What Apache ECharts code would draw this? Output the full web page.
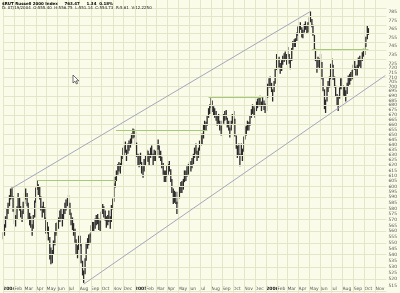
<!DOCTYPE html>
<html><head><meta charset="utf-8">
<script src="https://cdn.jsdelivr.net/npm/echarts@6/dist/echarts.min.js"></script>
<style>html,body{margin:0;padding:0;background:#fbfbe9}#c{width:400px;height:293px}</style>
</head><body><div id="c"></div>
<script>
// ---------- DATA ----------
const headerTitle = '$RUT Russell 2000 Index';
const headerLast = '763.47';
const headerChange = '1.34  0.18%';
const headerInfo = 'D: 07/19/2004  O:555.40  H:556.75  L:551.14  C:554.73  R:5.61  V:12.2250';

const monthTicks = ['2004-01-01','2004-02-01','2004-03-01','2004-04-01','2004-05-01','2004-06-01','2004-07-01','2004-08-01','2004-09-01','2004-10-01','2004-11-01','2004-12-01',
'2005-01-01','2005-02-01','2005-03-01','2005-04-01','2005-05-01','2005-06-01','2005-07-01','2005-08-01','2005-09-01','2005-10-01','2005-11-01','2005-12-01',
'2006-01-01','2006-02-01','2006-03-01','2006-04-01','2006-05-01','2006-06-01','2006-07-01','2006-08-01','2006-09-01','2006-10-01','2006-11-01'];
const monthLabels = ['2004','Feb','Mar','Apr','May','Jun','Jul','Aug','Sep','Oct','Nov','Dec',
'2005','Feb','Mar','Apr','May','Jun','Jul','Aug','Sep','Oct','Nov','Dec',
'2006','Feb','Mar','Apr','May','Jun','Jul','Aug','Sep','Oct','Nov'];

const priceLabels = [785,775,765,755,745,735,725,720,715,710,705,700,695,690,685,680,675,670,665,660,655,650,645,640,635,630,625,620,615,610,605,600,595,590,585,580,575,570,565,560,555,550,545,540,535,530,525,520,515];
const priceGrid = [790,780,770,760,750,740,730,720,710,700,690,680,670,660,650,640,630,620,610,600,590,580,570,560,550,540,530,520,510];

// [date, low, high]
const bars2004 = [
['2004-01-02',553,559],
['2004-01-05',556,566],['2004-01-08',563,573],['2004-01-12',570,580],['2004-01-15',575,585],
['2004-01-19',582,592],['2004-01-22',588,598],['2004-01-26',589,599],['2004-01-29',577,591],
['2004-02-02',566,579],['2004-02-05',564,574],['2004-02-09',570,582],['2004-02-12',580,594],
['2004-02-16',578,590],['2004-02-19',572,582],['2004-02-23',568,578],['2004-02-26',575,586],
['2004-03-01',584,594],['2004-03-04',588,598],['2004-03-08',582,594],['2004-03-11',570,585],
['2004-03-15',565,576],['2004-03-18',563,573],['2004-03-22',556,566],['2004-03-25',562,574],
['2004-03-29',572,587],['2004-04-01',585,599],['2004-04-05',597,606],['2004-04-08',592,602],
['2004-04-12',588,600],['2004-04-15',578,591],['2004-04-19',572,582],['2004-04-22',576,586],
['2004-04-26',570,581],['2004-04-29',558,572],['2004-05-03',558,568],['2004-05-06',552,564],
['2004-05-10',536,555],['2004-05-13',532,546],['2004-05-17',533,544],['2004-05-20',540,552],
['2004-05-24',548,560],['2004-05-27',556,567],['2004-05-31',558,568],['2004-06-03',562,572],
['2004-06-07',568,578],['2004-06-10',570,580],['2004-06-14',564,575],['2004-06-17',570,580],
['2004-06-21',575,585],['2004-06-24',578,588],['2004-06-28',582,590],['2004-07-01',583,592],
['2004-07-05',574,585],['2004-07-08',565,576],['2004-07-12',561,572],['2004-07-15',556,567],
['2004-07-19',550,562],['2004-07-22',540,553],['2004-07-26',537,548],['2004-07-29',544,556],
['2004-08-02',547,556],['2004-08-05',533,549],['2004-08-09',523,535],['2004-08-12',517,527],
['2004-08-16',524,537],['2004-08-19',535,550],['2004-08-23',545,554],['2004-08-26',548,557],
['2004-08-30',550,558],['2004-09-02',555,565],['2004-09-06',560,568],['2004-09-09',560,568],
['2004-09-13',562,571],['2004-09-16',565,574],['2004-09-20',566,575],['2004-09-23',561,571],
['2004-09-27',560,569],['2004-09-30',567,577],['2004-10-04',575,584],['2004-10-07',572,582],
['2004-10-11',569,578],['2004-10-14',563,573],['2004-10-18',565,574],['2004-10-21',568,578],
['2004-10-25',562,573],['2004-10-28',568,583],['2004-11-01',579,589],['2004-11-04',586,603],
['2004-11-08',599,609],['2004-11-11',605,615],['2004-11-15',611,621],['2004-11-18',614,623],
['2004-11-22',612,622],['2004-11-25',619,629],['2004-11-29',626,637],['2004-12-02',629,639],
['2004-12-06',632,643],['2004-12-09',624,635],['2004-12-13',631,641],['2004-12-16',634,644],
['2004-12-20',637,646],['2004-12-23',641,651],['2004-12-27',646,656],['2004-12-30',647,655]
];
const bars2005 = [
['2005-01-03',640,653],['2005-01-06',628,642],['2005-01-10',620,631],['2005-01-13',618,629],
['2005-01-17',621,632],['2005-01-20',612,623],['2005-01-24',608,619],['2005-01-27',614,626],
['2005-01-31',620,629],['2005-02-03',624,635],['2005-02-07',623,634],['2005-02-10',620,631],
['2005-02-14',627,637],['2005-02-17',629,639],['2005-02-21',620,631],['2005-02-24',624,635],
['2005-02-28',624,634],['2005-03-03',629,641],['2005-03-07',635,645],['2005-03-10',627,639],
['2005-03-14',624,634],['2005-03-17',617,628],['2005-03-21',611,622],['2005-03-24',604,615],
['2005-03-28',604,615],['2005-03-31',609,620],['2005-04-04',611,621],['2005-04-07',614,624],
['2005-04-11',604,616],['2005-04-14',594,607],['2005-04-18',584,598],['2005-04-21',585,596],
['2005-04-25',584,595],['2005-04-28',575,586],['2005-05-02',584,595],['2005-05-05',589,600],
['2005-05-09',594,604],['2005-05-12',594,605],['2005-05-16',597,607],['2005-05-19',604,615],
['2005-05-23',605,615],['2005-05-26',609,619],['2005-05-30',611,621],['2005-06-02',614,623],
['2005-06-06',614,624],['2005-06-09',617,627],['2005-06-13',621,631],['2005-06-16',627,637],
['2005-06-20',631,641],['2005-06-23',624,634],['2005-06-27',627,637],['2005-06-30',634,644],
['2005-07-04',639,649],['2005-07-07',640,651],['2005-07-11',646,660],['2005-07-14',654,664],
['2005-07-18',654,663],['2005-07-21',659,669],['2005-07-25',667,677],['2005-07-28',671,681],
['2005-08-01',677,688],['2005-08-04',673,685],['2005-08-08',669,679],['2005-08-11',667,677],
['2005-08-15',664,674],['2005-08-18',659,669],['2005-08-22',661,671],['2005-08-25',654,664],
['2005-08-29',649,659],['2005-09-01',654,664],['2005-09-05',661,671],['2005-09-08',664,674],
['2005-09-12',665,675],['2005-09-15',657,667],['2005-09-19',654,664],['2005-09-22',647,657],
['2005-09-26',654,664],['2005-09-29',661,671],['2005-10-03',664,674],['2005-10-06',648,666],
['2005-10-10',636,649],['2005-10-13',627,639],['2005-10-17',629,641],['2005-10-20',619,631],
['2005-10-24',629,641],['2005-10-27',624,636],['2005-10-31',633,648],['2005-11-03',645,658],
['2005-11-07',649,659],['2005-11-10',654,664],['2005-11-14',654,663],['2005-11-17',659,669],
['2005-11-21',667,676],['2005-11-24',671,681],['2005-11-28',669,679],['2005-12-01',667,677],
['2005-12-05',674,684],['2005-12-08',677,687],['2005-12-12',679,689],['2005-12-15',679,690],
['2005-12-19',674,684],['2005-12-22',679,689],['2005-12-26',675,685],['2005-12-29',672,682]
];
const bars2006 = [
['2006-01-02',674,690],['2006-01-05',688,703],['2006-01-09',699,709],['2006-01-12',699,711],
['2006-01-16',694,704],['2006-01-19',684,697],['2006-01-23',694,706],['2006-01-26',703,720],
['2006-01-30',718,736],['2006-02-02',719,731],['2006-02-06',721,733],['2006-02-09',714,726],
['2006-02-13',717,729],['2006-02-16',724,734],['2006-02-20',727,737],['2006-02-23',729,739],
['2006-02-27',724,736],['2006-03-02',733,744],['2006-03-06',725,736],['2006-03-09',719,731],
['2006-03-13',728,743],['2006-03-16',741,751],['2006-03-20',744,753],['2006-03-23',744,754],
['2006-03-27',751,761],['2006-03-30',757,768],['2006-04-03',759,769],['2006-04-06',764,773],
['2006-04-10',755,767],['2006-04-13',754,764],['2006-04-17',761,771],['2006-04-20',764,774],
['2006-04-24',759,769],['2006-04-27',761,773],['2006-05-01',769,779],['2006-05-04',773,786],
['2006-05-08',767,777],['2006-05-11',757,770],['2006-05-15',740,758],['2006-05-18',728,742],
['2006-05-22',715,730],['2006-05-25',721,733],['2006-05-29',719,731],['2006-06-01',724,736],
['2006-06-05',708,727],['2006-06-08',695,710],['2006-06-12',676,697],['2006-06-15',672,686],
['2006-06-19',684,700],['2006-06-22',694,706],['2006-06-26',699,711],['2006-06-29',708,725],
['2006-07-03',721,731],['2006-07-06',707,724],['2006-07-10',699,711],['2006-07-13',689,701],
['2006-07-17',680,692],['2006-07-20',674,690],['2006-07-24',687,699],['2006-07-27',697,709],
['2006-07-31',697,709],['2006-08-03',690,701],['2006-08-07',689,700],['2006-08-10',684,696],
['2006-08-14',692,704],['2006-08-17',700,712],['2006-08-21',702,714],['2006-08-24',706,716],
['2006-08-28',708,718],['2006-08-31',714,724],['2006-09-04',718,728],['2006-09-07',712,722],
['2006-09-11',712,724],['2006-09-14',720,732],['2006-09-18',722,734],['2006-09-21',720,730],
['2006-09-25',728,738],['2006-09-28',733,742],['2006-10-02',735,746],['2006-10-05',744,756],
['2006-10-09',753,769],['2006-10-12',758,766]
];

// trend / level lines: [startDate, startValue, endDate, endValue]
const channelLines = [
['2004-01-24',598,'2006-05-04',786],
['2004-08-12',516,'2006-11-28',712]
];
const levelLines = [
['2004-04-05',606,'2004-11-10',606],
['2004-11-10',654.5,'2005-07-22',654.5],
['2005-07-25',688.5,'2005-12-22',688.5],
['2006-05-08',741,'2006-10-12',741]
];

// ---------- CHART ----------
function ts(s){ const p = s.split('-'); return new Date(+p[0], +p[1]-1, +p[2]).getTime(); }
const barData = bars2004.concat(bars2005, bars2006).map(r => [ts(r[0]), r[1], r[2]]);
const monthTs = monthTicks.map(ts);
const font = 'DejaVu Sans';
const DAY = 86400000;

function lineItems(list){
  return list.map(l => [{coord:[ts(l[0]), l[1]]},{coord:[ts(l[2]), l[3]]}]);
}
function monthLabelOf(v){
  const d = new Date(v);
  for (let i=0;i<monthTs.length;i++){
    const m = new Date(monthTs[i]);
    if (m.getFullYear()===d.getFullYear() && m.getMonth()===d.getMonth()) return i;
  }
  return -1;
}

const chart = echarts.init(document.getElementById('c'), null, {renderer:'canvas'});
chart.setOption({
  animation:false,
  backgroundColor:'#fbfbe9',
  grid:{left:3, right:10, top:0, bottom:0},
  xAxis:{
    type:'time', min:ts('2004-01-01'), max:ts('2006-12-01'),
    minInterval: 28*DAY, maxInterval: 31*DAY,
    axisLine:{show:false}, axisTick:{show:false}, splitLine:{show:false},
    axisLabel:{
      inside:true, margin:2, align:'left', interval:0, hideOverlap:false, showMinLabel:true, showMaxLabel:false,
      fontSize:4.5, color:'#555', fontFamily:font,
      formatter: function(v){ const i = monthLabelOf(v); if(i<0) return ''; const s = monthLabels[i]; return s.length===4 ? '{y|'+s+'}' : s; },
      rich:{y:{fontSize:4.5, fontWeight:'bold', color:'#222', fontFamily:font}}
    }
  },
  yAxis:{
    type:'log', logBase:10, position:'right', min:509, max:800,
    axisLine:{show:false}, axisTick:{show:false}, splitLine:{show:false},
    axisLabel:{customValues: priceLabels, margin:2, fontSize:4.5, color:'#555', fontFamily:font}
  },
  graphic:[
    {type:'text', x:2, y:3.5, z:100, style:{
      text:'{a|'+headerTitle+'}  {b|'+headerLast+'}  {c|'+headerChange+'}',
      verticalAlign:'middle',
      rich:{a:{fontSize:4, fontWeight:'bold', fontFamily:font, color:'#111', lineHeight:4.5},
            b:{fontSize:4, fontWeight:'bold', fontFamily:font, color:'#111', lineHeight:4.5},
            c:{fontSize:4, fontWeight:'bold', fontFamily:font, color:'#2a9d2a', lineHeight:4.5}}
    }},
    {type:'text', x:2, y:8, z:100, style:{text:headerInfo, fontSize:4, fontFamily:font, fill:'#222', verticalAlign:'middle'}},
    {type:'polygon', x:73, y:75, z:100, shape:{points:[[0,0],[0,8],[2,6.2],[3.4,9],[4.6,8.4],[3.3,5.8],[5.8,5.8]]},
      style:{fill:'#ffffff', stroke:'#333', lineWidth:0.7}}
  ],
  series:[
    {
      type:'line', data:[[ts('2004-01-01'),600]], showSymbol:false, silent:true, z:0,
      lineStyle:{width:0},
      markLine:{silent:true, symbol:['none','none'], animation:false, label:{show:false},
        lineStyle:{color:'#e3e7c8', width:1, type:'solid'},
        data: priceGrid.map(v=>({yAxis:v})).concat(monthTs.map(t=>({xAxis:t})))}
    },
    {
      type:'custom', z:2, silent:true,
      data: barData,
      encode:{x:0, y:[1,2]},
      renderItem: function(params, api){
        const x = api.value(0);
        const a = api.coord([x, api.value(1)]);
        const b = api.coord([x, api.value(2)]);
        return {type:'line', shape:{x1:a[0], y1:a[1], x2:b[0], y2:b[1]}, style:{stroke:'#2a2a2a', lineWidth:1.3}};
      }
    },
    {
      type:'line', data:[[ts('2004-01-01'),600]], showSymbol:false, silent:true, z:3,
      lineStyle:{width:0},
      markLine:{silent:true, symbol:['none','none'], animation:false, label:{show:false},
        data: lineItems(channelLines).map(p=>{p[0].lineStyle={color:'#a4a8bc', width:1, type:'solid'}; return p;})
          .concat(lineItems(levelLines).map(p=>{p[0].lineStyle={color:'#a6c97a', width:1, type:'solid'}; return p;}))}
    }
  ]
});
</script></body></html>
